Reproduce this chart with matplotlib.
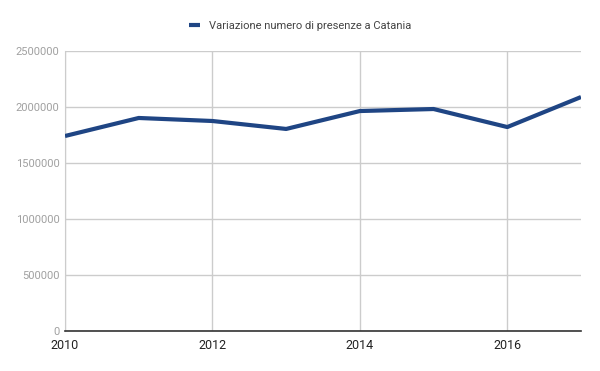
import matplotlib
matplotlib.use("Agg")
import matplotlib.pyplot as plt

# dati
anni = [2010, 2011, 2012, 2013, 2014, 2015, 2016, 2017]
presenze = [1741000, 1902000, 1875000, 1804000, 1964000, 1982000, 1821000, 2089000]
tick_y = [0, 500000, 1000000, 1500000, 2000000, 2500000]
tick_x = [2010, 2012, 2014, 2016]
etichetta = "Variazione numero di presenze a Catania"

plt.rcParams["font.family"] = ["Roboto", "DejaVu Sans"]

fig = plt.figure(figsize=(6, 3.71), dpi=100)
ax = fig.add_axes([65 / 600, 1 - 331 / 371, 516 / 600, 280 / 371])

ax.plot(anni, presenze, color="#1f4584", linewidth=3, label=etichetta,
        solid_capstyle="butt", zorder=3)

ax.set_xlim(2010, 2017)
ax.set_ylim(0, 2500000)
ax.set_yticks(tick_y)
ax.set_yticklabels([str(v) for v in tick_y])
ax.set_xticks(tick_x)
ax.set_xticklabels([str(v) for v in tick_x])

ax.grid(True, color="#cccccc", linewidth=1)
ax.set_axisbelow(True)
for s in ["top", "right"]:
    ax.spines[s].set_visible(False)
ax.spines["left"].set_color("#cccccc")
ax.spines["bottom"].set_color("#333333")
ax.spines["bottom"].set_linewidth(1.2)
ax.tick_params(axis="y", length=0, pad=4, labelsize=8, labelcolor="#a0a0a0")
ax.tick_params(axis="x", length=0, pad=6, labelsize=9, labelcolor="#222222")

fig.legend(loc="center", bbox_to_anchor=(0.5, 1 - 26 / 371), frameon=False,
           fontsize=8, labelcolor="#444444", handlelength=1.0, handletextpad=0.8)

fig.savefig("out.png", dpi=100)
